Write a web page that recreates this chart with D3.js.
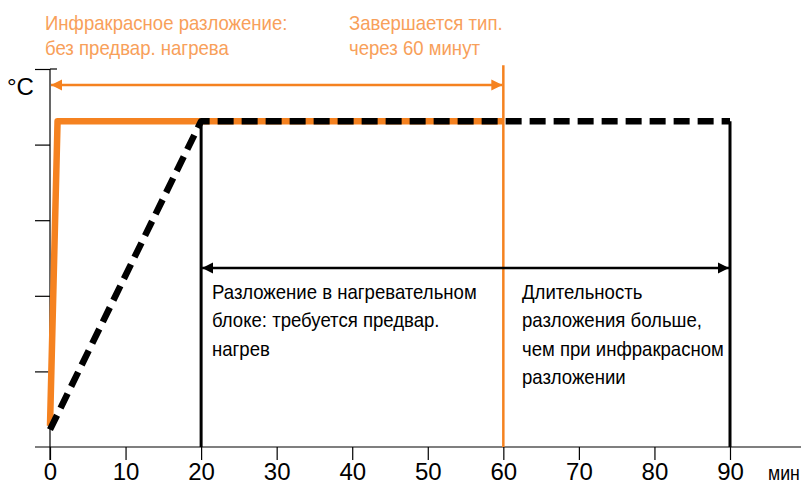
<!DOCTYPE html>
<html>
<head>
<meta charset="utf-8">
<script src="https://cdn.jsdelivr.net/npm/d3@7"></script>
<style>
  body { margin: 0; background: #fff; }
  svg text { font-family: "Liberation Sans", Arial, sans-serif; }
</style>
</head>
<body>
<svg width="801" height="485"></svg>
<script>
// данные: время (мин) и условная температура
const xTicks = [0, 10, 20, 30, 40, 50, 60, 70, 80, 90];
const yTicks = [1, 2, 3, 4, 5];
const infrared = [{t: 0, temp: 0.28}, {t: 1, temp: 4.31}, {t: 60, temp: 4.31}];
const block = [{t: 0, temp: 0.23}, {t: 20, temp: 4.31}, {t: 90, temp: 4.31}];
const orangeNote = ["Инфракрасное разложение:", "без предвар. нагрева"];
const endNote = ["Завершается тип.", "через 60 минут"];
const blockNote = ["Разложение в нагревательном", "блоке: требуется предвар.", "нагрев"];
const longNote = ["Длительность", "разложения больше,", "чем при инфракрасном", "разложении"];

const orange = "#f58220";
const orangeText = "#f8a05a";
const narrow = 0.885; // сжатие шрифта по горизонтали

const svg = d3.select("svg");
const x = d3.scaleLinear().domain([0, 90]).range([50, 730]);
const y = d3.scaleLinear().domain([0, 5]).range([447, 69]);

// маркеры стрелок
const defs = svg.append("defs");
function marker(id, color) {
    defs.append("marker")
        .attr("id", id)
        .attr("viewBox", "0 0 10 10")
        .attr("refX", 10).attr("refY", 5)
        .attr("markerUnits", "userSpaceOnUse")
        .attr("markerWidth", 11).attr("markerHeight", 12)
        .attr("orient", "auto-start-reverse")
        .append("path")
        .attr("d", "M0,0 L10,5 L0,10 Z")
        .attr("fill", color);
}
marker("oa", orange);
marker("ba", "#000");

// оси
const xAxis = svg.append("g").attr("transform", `translate(0,${y(0)})`)
    .call(d3.axisBottom(x).tickValues(xTicks).tickSize(13).tickPadding(3).tickFormat(d3.format("d")));
xAxis.select(".domain").remove();
xAxis.append("line").attr("x1", 35).attr("x2", 801).attr("stroke", "#000").attr("stroke-width", 1.2);
xAxis.selectAll(".tick line").attr("stroke-width", 1.2);
xAxis.selectAll(".tick text").attr("font-size", 24).attr("fill", "#000")
    .attr("font-family", "Liberation Sans, Arial, sans-serif");

const yAxis = svg.append("g").attr("transform", `translate(${x(0)},0)`)
    .call(d3.axisLeft(y).tickValues(yTicks).tickSize(15).tickFormat(""));
yAxis.select(".domain").remove();
yAxis.append("line").attr("y1", y(5)).attr("y2", y(0) + 13).attr("stroke", "#000").attr("stroke-width", 1.2);
yAxis.append("line").attr("x1", 0).attr("x2", 7).attr("y1", y(5)).attr("y2", y(5)).attr("stroke", "#000").attr("stroke-width", 1.2);
yAxis.selectAll(".tick line").attr("stroke-width", 1.2);

svg.append("text").attr("x", 7).attr("y", 95).attr("font-size", 24).text("°C");
svg.append("text").attr("transform", `translate(768,480) scale(${narrow},1)`)
    .attr("font-size", 20).text("мин");

// вертикальные линии
svg.append("line").attr("x1", x(20)).attr("x2", x(20)).attr("y1", y(4.31)).attr("y2", y(0))
    .attr("stroke", "#000").attr("stroke-width", 3);
svg.append("line").attr("x1", x(90)).attr("x2", x(90)).attr("y1", y(4.31)).attr("y2", y(0))
    .attr("stroke", "#000").attr("stroke-width", 3);
svg.append("line").attr("x1", x(60)).attr("x2", x(60)).attr("y1", y(5.05)).attr("y2", y(0))
    .attr("stroke", orange).attr("stroke-width", 2.5);

const line = d3.line().x(d => x(d.t)).y(d => y(d.temp));

svg.append("path").attr("d", line(infrared))
    .attr("fill", "none").attr("stroke", orange).attr("stroke-width", 6.5)
    .attr("stroke-linejoin", "round");
svg.append("path").attr("d", line(block))
    .attr("fill", "none").attr("stroke", "#000").attr("stroke-width", 6.5)
    .attr("stroke-dasharray", "16,8").attr("stroke-linejoin", "round");

// стрелки
svg.append("line").attr("x1", x(0) + 1).attr("x2", x(60) - 1).attr("y1", 85).attr("y2", 85)
    .attr("stroke", orange).attr("stroke-width", 2.5)
    .attr("marker-start", "url(#oa)").attr("marker-end", "url(#oa)");
svg.append("line").attr("x1", x(20) + 1).attr("x2", x(90) - 1).attr("y1", 268).attr("y2", 268)
    .attr("stroke", "#000").attr("stroke-width", 2.5)
    .attr("marker-start", "url(#ba)").attr("marker-end", "url(#ba)");

// подписи (узкий шрифт через масштаб по x)
function note(lines, px, py, color, lh) {
    const t = svg.append("text")
        .attr("transform", `translate(${px},${py}) scale(${narrow},1)`)
        .attr("fill", color).attr("font-size", 21);
    t.selectAll("tspan").data(lines).join("tspan")
        .attr("x", 0).attr("y", (d, i) => i * lh).text(d => d);
}
note(orangeNote, 45, 30, orangeText, 25.5);
note(endNote, 349, 30, orangeText, 25.5);
note(blockNote, 212, 299, "#000", 28.5);
note(longNote, 522, 299, "#000", 28.5);
</script>
</body>
</html>
